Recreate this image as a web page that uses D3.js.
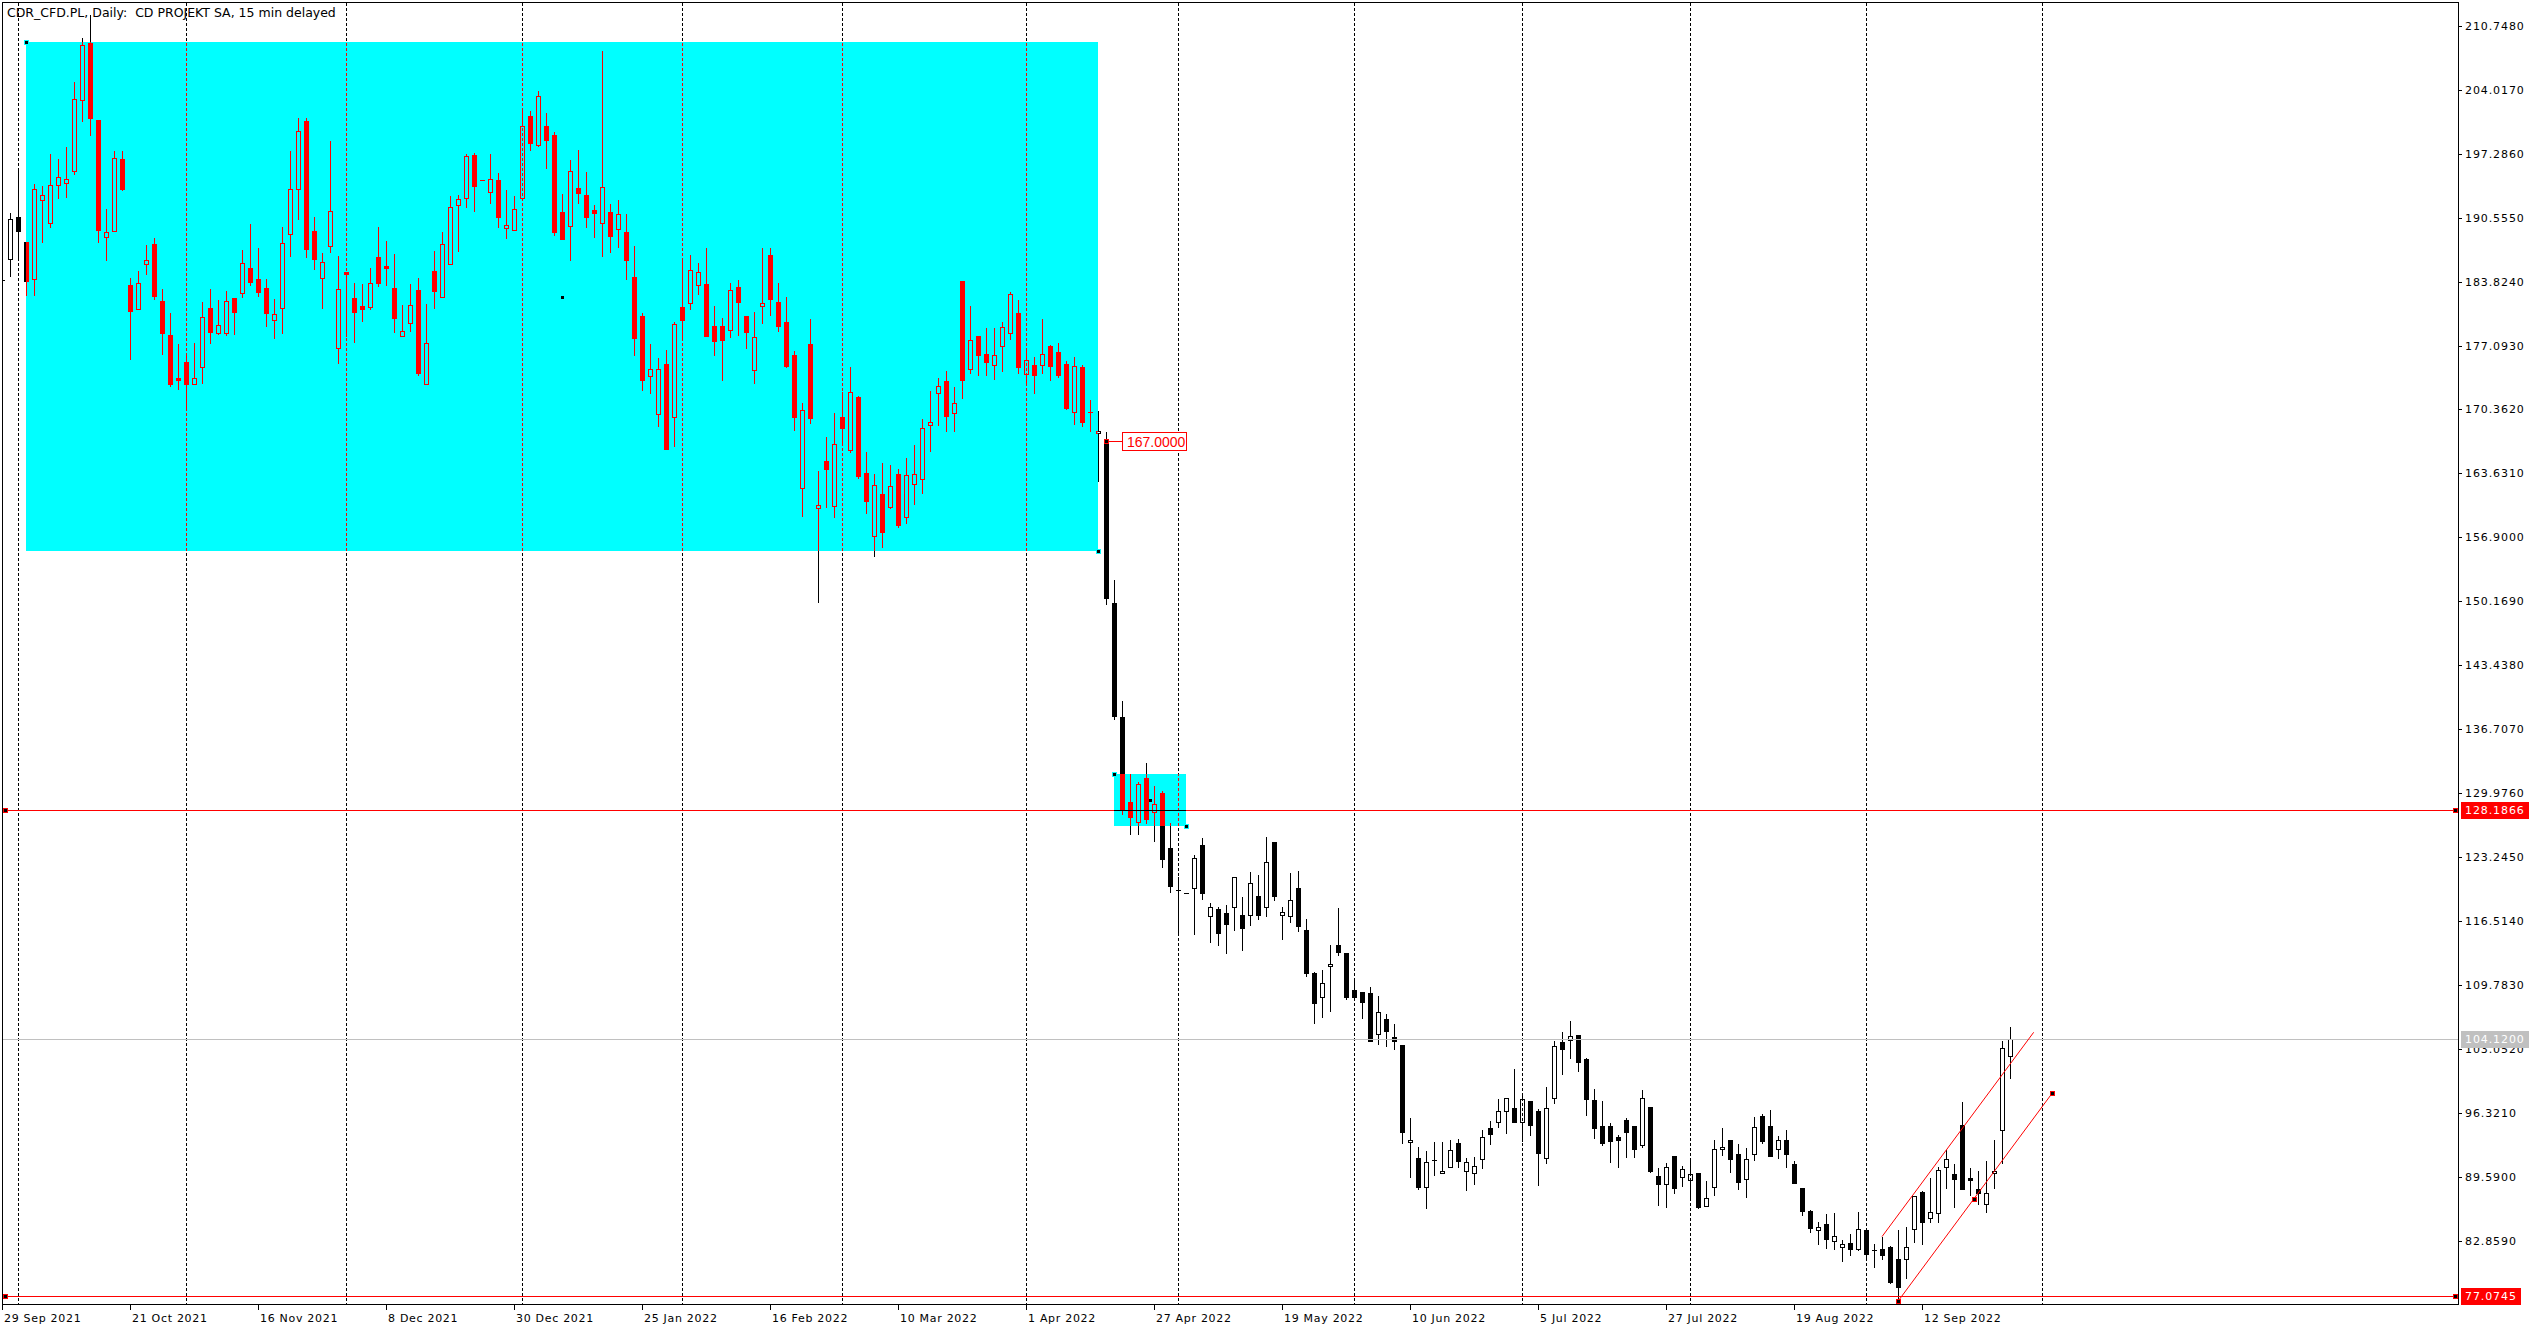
<!DOCTYPE html>
<html><head><meta charset="utf-8">
<script src="https://cdn.jsdelivr.net/npm/d3@7"></script>
<style>
html,body{margin:0;padding:0;background:#fff;overflow:hidden}
svg{display:block}
text{font-family:"DejaVu Sans",sans-serif}
</style></head><body>
<svg id="chart" width="2544" height="1332"></svg>
<script>
// ---------- DATA ----------
const chartTitle = "CDR_CFD.PL, Daily:  CD PROJEKT SA, 15 min delayed";
const openP = [
184.0,186.16,190.62,187.99,184.06,192.37,189.95,193.95,194.16,195.42,
202.90,208.89,200.83,188.48,189.11,196.69,183.43,180.97,185.64,187.78,
181.74,178.20,173.71,175.39,173.01,174.87,181.04,178.37,178.45,182.09,
182.58,185.25,184.09,183.15,179.74,181.01,188.79,193.60,200.72,189.14,
184.16,187.53,176.87,184.83,182.09,181.25,181.11,186.37,185.46,183.15,
178.09,179.43,182.94,173.07,184.93,182.20,185.70,191.89,192.61,197.12,
194.50,193.22,194.54,189.48,189.23,192.65,201.26,198.24,200.21,199.25,
191.16,189.64,193.70,192.93,191.37,189.96,191.16,189.35,189.07,184.33,
180.15,173.91,169.89,175.20,169.57,181.19,181.55,183.44,183.60,179.10,
179.10,178.70,183.20,180.15,174.56,181.27,186.66,181.68,179.57,176.06,
162.07,177.25,159.96,164.94,160.24,169.54,166.13,171.68,163.64,157.01,
161.43,160.14,163.54,159.01,162.49,163.01,168.69,172.06,173.32,169.96,
183.88,174.59,178.10,176.20,175.08,177.01,178.38,180.48,174.06,175.01,
175.01,177.01,176.38,175.15,170.13,174.83,170.06,167.85,167.01,149.96,
137.97,129.02,126.99,131.62,127.97,130.00,124.21,119.83,119.44,119.97,
124.53,117.02,117.80,117.37,118.01,117.13,117.20,119.13,118.04,124.85,
117.20,117.02,119.97,115.55,111.06,108.50,111.76,114.01,113.17,109.27,
109.06,108.92,104.61,106.22,104.33,103.48,93.24,91.56,88.51,91.42,
89.98,90.61,93.14,90.19,89.98,91.45,94.71,95.35,96.50,96.89,
95.38,97.56,96.50,91.56,97.87,103.80,103.98,104.50,101.98,97.66,
94.93,94.93,93.77,95.56,94.93,92.93,96.96,89.66,88.89,91.77,
89.59,89.28,89.98,86.54,88.51,92.51,93.45,91.98,89.35,91.98,
96.01,94.93,92.51,93.45,90.93,88.40,86.02,84.02,84.61,82.86,
82.23,82.61,81.98,83.98,81.95,81.98,82.26,80.93,80.93,84.09,
88.05,85.25,85.84,90.61,89.88,95.03,89.45,88.37,86.72,90.05,
94.51,102.29];
const highP = [
184.6,191.04,195.56,187.99,194.09,193.88,197.25,196.72,197.98,204.83,
209.42,211.87,200.83,191.42,197.53,197.53,184.23,184.93,187.67,188.37,
183.01,180.48,177.29,176.10,177.39,181.67,183.04,181.88,182.83,182.09,
187.14,189.88,187.36,184.09,181.99,189.57,197.56,201.04,201.04,190.62,
186.83,198.62,186.51,184.83,183.67,183.57,185.25,189.57,188.13,186.72,
181.36,183.57,184.23,181.51,187.06,189.07,192.81,192.93,197.20,197.36,
194.50,197.28,195.27,193.50,192.85,201.90,201.82,203.91,201.58,199.57,
193.05,196.63,197.68,195.39,191.89,208.09,192.01,192.45,190.96,187.59,
180.47,177.21,175.76,176.57,179.62,186.14,186.66,185.82,187.34,181.27,
179.98,183.72,184.01,180.15,180.63,187.34,187.34,183.69,182.16,176.48,
171.05,179.88,163.89,167.47,169.99,172.17,174.83,171.82,165.89,163.54,
164.70,164.52,164.13,165.26,166.63,169.33,172.27,173.64,174.41,172.69,
183.88,181.25,178.10,178.94,178.94,179.57,182.73,181.85,176.59,175.92,
179.88,177.11,177.36,175.47,175.92,175.00,171.36,170.20,167.99,152.42,
139.69,132.00,131.20,133.19,130.74,130.20,126.81,121.20,119.44,123.48,
125.27,118.43,118.01,118.22,121.13,119.06,121.69,121.34,125.37,124.85,
118.01,121.58,121.79,116.71,111.17,111.41,114.01,117.90,113.17,110.46,
109.06,109.59,108.64,106.78,105.69,103.48,95.80,92.71,92.33,93.28,
93.28,93.49,93.56,91.56,91.70,94.54,95.49,97.77,97.94,100.92,
98.29,97.56,96.71,99.06,103.87,104.85,106.01,104.50,102.08,98.82,
97.56,95.31,94.01,95.80,94.93,98.71,96.96,90.51,91.03,91.77,
90.72,91.35,89.98,89.17,93.45,94.72,93.45,93.07,92.61,95.87,
96.22,96.61,93.91,94.51,91.28,88.40,86.12,84.89,85.70,85.77,
82.97,83.60,85.91,83.98,82.51,83.32,82.33,84.02,84.37,87.60,
88.12,89.45,90.65,92.47,90.96,97.45,90.51,90.23,91.28,93.45,
103.91,105.38];
const lowP = [
183.4,184.44,186.44,182.41,182.41,188.02,189.60,192.65,192.76,195.18,
200.76,199.28,188.02,186.13,189.11,193.46,175.67,180.97,184.62,182.02,
176.24,172.87,172.55,170.66,173.01,173.18,177.39,178.27,178.20,178.34,
182.23,183.46,182.34,179.18,177.92,178.45,186.55,190.44,186.41,185.15,
181.08,186.97,175.29,178.13,177.50,179.67,180.94,183.39,183.46,178.55,
178.09,178.66,173.99,173.07,181.03,182.20,185.70,187.02,191.65,191.20,
194.50,192.05,189.52,188.43,189.23,192.65,197.68,198.04,195.79,188.75,
188.27,186.06,192.13,189.60,188.47,186.50,186.98,187.43,184.13,176.08,
172.39,172.10,168.65,166.19,166.51,177.65,180.91,182.48,178.10,176.08,
173.47,177.97,178.18,176.85,173.15,179.46,180.27,178.59,174.87,168.20,
159.19,168.98,150.14,160.14,159.01,166.87,165.92,163.19,159.47,154.98,
155.93,160.03,157.96,158.45,160.45,161.61,166.03,168.76,168.13,168.13,
171.61,174.24,174.03,174.03,173.61,174.45,177.81,174.24,173.08,172.13,
174.24,173.47,173.75,170.41,168.87,168.62,168.10,162.87,149.93,137.76,
127.75,125.65,125.65,126.81,124.99,122.25,119.62,115.13,119.44,115.20,
118.81,114.36,114.04,113.20,115.62,113.52,116.15,116.78,117.06,118.74,
114.67,116.43,115.52,110.78,105.83,106.47,107.10,112.95,108.32,108.22,
106.36,103.94,103.55,103.41,103.03,93.14,89.63,88.30,86.30,89.80,
89.98,90.61,90.68,88.26,88.89,90.58,93.03,94.89,94.19,95.35,
93.42,94.01,88.72,91.03,97.42,100.47,102.15,100.78,96.15,93.73,
92.93,91.21,90.68,91.73,91.66,92.72,90.16,86.68,86.47,87.95,
88.68,87.31,86.37,86.54,87.67,91.91,90.09,88.37,87.53,91.42,
93.14,91.77,91.63,90.68,88.93,85.63,83.84,82.51,82.09,81.98,
80.72,81.39,81.88,80.86,80.12,80.93,78.40,76.48,78.93,82.79,
82.54,84.89,84.89,88.47,86.47,88.30,87.67,86.72,85.95,88.47,
91.07,99.98];
const closeP = [
184.0,190.37,189.18,183.92,193.53,192.90,193.95,194.79,194.58,203.00,
208.68,201.07,189.28,189.00,196.79,193.56,180.76,183.64,186.06,182.34,
178.45,173.08,173.50,173.08,173.64,180.09,178.55,179.22,181.74,180.66,
185.74,183.81,182.76,180.55,180.37,187.85,193.53,199.67,187.29,186.23,
185.85,191.21,183.01,184.62,180.66,180.97,183.64,183.71,185.29,180.02,
178.62,181.36,174.17,177.37,182.80,187.79,191.65,192.49,197.08,193.86,
194.50,194.62,190.60,189.76,191.45,200.17,198.36,203.31,198.68,188.99,
188.27,195.43,193.09,190.60,191.04,193.78,188.59,190.92,186.06,177.85,
173.47,174.64,174.64,166.19,179.38,179.74,185.05,184.81,178.10,177.57,
177.65,182.96,181.63,178.50,178.02,181.59,181.96,179.15,174.94,169.61,
170.27,169.50,160.28,164.13,166.70,168.45,172.17,163.36,160.77,162.38,
157.51,162.28,158.24,163.43,163.54,168.38,169.01,172.83,169.71,171.01,
173.50,177.64,176.13,175.39,176.06,179.01,182.48,174.87,175.53,173.96,
176.17,174.97,174.03,170.52,174.97,169.05,170.06,168.06,150.56,138.14,
128.20,127.51,130.95,127.30,128.81,123.09,120.25,119.83,119.44,123.13,
119.51,118.01,115.30,116.25,121.13,115.83,120.50,117.20,122.71,119.20,
117.44,118.71,116.04,111.10,107.94,109.97,111.97,113.27,108.53,108.53,
108.04,103.94,106.96,104.92,103.87,94.36,93.49,88.58,91.14,91.42,
90.22,92.43,91.31,91.14,90.72,93.77,94.15,96.57,97.94,95.35,
97.77,95.03,92.15,96.89,103.41,103.10,104.47,101.73,97.84,94.72,
93.21,93.42,93.52,94.37,92.51,97.87,90.26,88.89,90.61,88.47,
90.47,89.95,86.47,87.35,92.51,92.72,91.45,89.03,91.45,94.82,
93.38,91.84,93.45,92.05,89.00,86.05,84.19,84.33,83.04,83.39,
82.51,81.98,84.09,81.46,81.95,81.39,78.51,77.98,82.19,87.60,
84.89,85.95,90.30,91.52,89.35,88.30,89.24,87.88,87.95,90.23,
103.13,104.12];

const dateLabels = ["29 Sep 2021","21 Oct 2021","16 Nov 2021","8 Dec 2021","30 Dec 2021","25 Jan 2022","16 Feb 2022","10 Mar 2022","1 Apr 2022","27 Apr 2022","19 May 2022","10 Jun 2022","5 Jul 2022","27 Jul 2022","19 Aug 2022","12 Sep 2022"];
const dateLabelBars = [0,16,32,48,64,80,96,112,128,144,160,176,192,208,224,240];
const monthSeparatorBars = [2,23,43,65,85,105,128,147,169,190,211,233,255];
const priceTickLabels = ["210.7480","204.0170","197.2860","190.5550","183.8240","177.0930","170.3620","163.6310","156.9000","150.1690","143.4380","136.7070","129.9760","123.2450","116.5140","109.7830","103.0520","96.3210","89.5900","82.8590"];

// drawn objects (in bar index / price units)
const zoneBars = [[3,137],[139,148]];
const zonePrices = [[209.03,155.47],[132.00,126.56]];
const resistanceLevel = 128.1866;
const supportLevel = 77.0745;
const bidLevel = 104.12;
const priceLabelPoint = [138, 167.0];
const priceLabelText = "167.0000";
const channelLower = [[237,76.52],[256.25,98.39]];
const channelUpper = [[235,83.32],[253.96,104.82]];
const channelAnchors = [[237,76.52],[246.5,87.32],[256.25,98.39]];

// ---------- SCALES ----------
const svg = d3.select('#chart');
const PL = 2, PR = 2458, PT = 2, PB = 1304;
const x = d3.scaleLinear().domain([0, 307]).range([PL, PR]);
const y = d3.scaleLinear().domain([82.859, 210.748]).range([1241, 25.7]);
const px = v => Math.round(x(v));
const py = v => Math.round(y(v));
const RED = '#FF0000', CYAN = '#00FFFF', GRAY = '#C0C0C0';

const bars = d3.range(openP.length).map(i => ({i, o: openP[i], h: highP[i], l: lowP[i], c: closeP[i]}));
const zones = zoneBars.map((b, k) => ({b0: b[0], b1: b[1], p0: zonePrices[k][0], p1: zonePrices[k][1]}));

const defs = svg.append('defs');
defs.append('clipPath').attr('id', 'plotClip').append('rect')
  .attr('x', PL + 1).attr('y', PT).attr('width', PR - PL - 1).attr('height', PB - PT);
const zc = defs.append('clipPath').attr('id', 'zoneClip');
zones.forEach(z => zc.append('rect').attr('x', px(z.b0)).attr('y', py(z.p0))
  .attr('width', px(z.b1) - px(z.b0)).attr('height', py(z.p1) - py(z.p0)));

// ---------- ZONES ----------
svg.append('g').selectAll('rect').data(zones).join('rect')
  .attr('x', d => px(d.b0)).attr('y', d => py(d.p0))
  .attr('width', d => px(d.b1) - px(d.b0)).attr('height', d => py(d.p1) - py(d.p0))
  .attr('fill', CYAN);

// ---------- GRID ----------
function drawGrid(g, color) {
  g.selectAll('line').data(monthSeparatorBars).join('line')
    .attr('x1', d => px(d) + 0.5).attr('x2', d => px(d) + 0.5)
    .attr('y1', PT + 1).attr('y2', PB)
    .attr('stroke', color).attr('stroke-width', 1).attr('stroke-dasharray', '3,2')
    .attr('shape-rendering', 'crispEdges');
}
drawGrid(svg.append('g'), '#000');
drawGrid(svg.append('g').attr('clip-path', 'url(#zoneClip)'), RED);

// ---------- CANDLES ----------
function drawCandles(g, color) {
  g.selectAll('g').data(bars).join('g').each(function (d) {
    const s = d3.select(this);
    const cx = px(d.i), yo = py(d.o), yc = py(d.c), yh = py(d.h), yl = py(d.l);
    const top = Math.min(yo, yc), bot = Math.max(yo, yc);
    const vline = (a, b) => s.append('line').attr('x1', cx + 0.5).attr('x2', cx + 0.5)
      .attr('y1', a).attr('y2', b).attr('stroke', color).attr('stroke-width', 1);
    if (d.c > d.o && bot > top) {
      if (yh < top) vline(yh, top);
      if (yl > bot) vline(bot + 1, yl + 1);
      s.append('rect').attr('x', cx - 1.5).attr('y', top + 0.5).attr('width', 4).attr('height', bot - top)
        .attr('fill', 'none').attr('stroke', color).attr('stroke-width', 1);
    } else if (d.c < d.o && bot > top) {
      vline(yh, yl + 1);
      s.append('rect').attr('x', cx - 2).attr('y', top).attr('width', 5).attr('height', bot - top + 1)
        .attr('fill', color);
    } else {
      if (yl > yh) vline(yh, yl + 1);
      s.append('line').attr('x1', cx - 2).attr('x2', cx + 3).attr('y1', top + 0.5).attr('y2', top + 0.5)
        .attr('stroke', color).attr('stroke-width', 1);
    }
  });
}
const cg = svg.append('g').attr('clip-path', 'url(#plotClip)').attr('shape-rendering', 'crispEdges');
drawCandles(cg.append('g'), '#000');
drawCandles(cg.append('g').attr('clip-path', 'url(#zoneClip)'), RED);

// ---------- HORIZONTAL LEVELS ----------
const hl = svg.append('g').attr('shape-rendering', 'crispEdges');
function hLine(g, v, color) {
  g.append('line').attr('x1', PL).attr('x2', PR).attr('y1', py(v) + 0.5).attr('y2', py(v) + 0.5)
    .attr('stroke', color).attr('stroke-width', 1);
}
hLine(hl, bidLevel, GRAY);
hLine(hl, resistanceLevel, RED);
hLine(hl.append('g').attr('clip-path', 'url(#zoneClip)'), resistanceLevel, '#000');
hLine(hl, supportLevel, RED);

// ---------- CHANNEL ----------
const lineGen = d3.line().x(d => x(d[0])).y(d => y(d[1]));
svg.append('path').attr('d', lineGen(channelLower)).attr('fill', 'none').attr('stroke', RED).attr('stroke-width', 1);
svg.append('path').attr('d', lineGen(channelUpper)).attr('fill', 'none').attr('stroke', RED).attr('stroke-width', 1);

// ---------- ANCHOR MARKERS ----------
function marker(cxp, cyp, border) {
  const g = svg.append('g').attr('shape-rendering', 'crispEdges');
  g.append('rect').attr('x', cxp - 2).attr('y', cyp - 2).attr('width', 5).attr('height', 5).attr('fill', border);
  g.append('rect').attr('x', cxp - 1).attr('y', cyp - 1).attr('width', 3).attr('height', 3).attr('fill', '#000');
}
zones.forEach(z => {
  marker(px(z.b0), py(z.p0), CYAN);
  marker(px(z.b1), py(z.p1), CYAN);
  const mx = Math.round((px(z.b0) + px(z.b1)) / 2), my = Math.round((py(z.p0) + py(z.p1)) / 2);
  svg.append('rect').attr('x', mx - 1).attr('y', my - 1).attr('width', 3).attr('height', 3).attr('fill', '#000');
});
channelAnchors.forEach(a => marker(Math.round(x(a[0])), Math.round(y(a[1])), RED));
marker(PL + 3, py(resistanceLevel), RED);
marker(PR - 3, py(resistanceLevel), RED);
marker(PL + 3, py(supportLevel), RED);
marker(PR - 3, py(supportLevel), RED);

// ---------- PRICE LABEL 167 ----------
{
  const ax = px(priceLabelPoint[0]), ay = py(priceLabelPoint[1]);
  const g = svg.append('g');
  g.append('line').attr('x1', ax + 2).attr('x2', ax + 16).attr('y1', ay + 0.5).attr('y2', ay + 0.5)
    .attr('stroke', RED).attr('shape-rendering', 'crispEdges');
  g.append('rect').attr('x', ax + 16.5).attr('y', ay - 8.5).attr('width', 64).attr('height', 18)
    .attr('fill', '#fff').attr('stroke', RED).attr('shape-rendering', 'crispEdges');
  g.append('text').attr('x', ax + 21).attr('y', ay + 6).attr('fill', RED)
    .style('font-family', '"Liberation Sans", Arial, sans-serif').style('font-size', '14px').text(priceLabelText);
  marker(ax, ay, RED);
}

// ---------- FRAME ----------
const fr = svg.append('g').attr('shape-rendering', 'crispEdges');
fr.append('rect').attr('x', PL + 0.5).attr('y', PT + 0.5).attr('width', PR - PL).attr('height', PB - PT)
  .attr('fill', 'none').attr('stroke', '#000');

// ---------- Y AXIS ----------
const yAxis = svg.append('g');
priceTickLabels.forEach(t => {
  const v = +t, yy = py(v);
  yAxis.append('line').attr('x1', PR).attr('x2', PR + 4).attr('y1', yy + 0.5).attr('y2', yy + 0.5)
    .attr('stroke', '#000').attr('shape-rendering', 'crispEdges');
  yAxis.append('text').attr('x', PR + 7).attr('y', yy + 4).attr('fill', '#000')
    .style('font-size', '11px').style('letter-spacing', '0.9px').text(t);
});
function axisTag(v, txt, bg, w) {
  const yy = py(v);
  svg.append('rect').attr('x', PR + 3).attr('y', yy - 8).attr('width', w).attr('height', 17).attr('fill', bg);
  svg.append('text').attr('x', PR + 7).attr('y', yy + 4).attr('fill', '#fff')
    .style('font-size', '11px').style('letter-spacing', '0.9px').text(txt);
}
axisTag(resistanceLevel, resistanceLevel.toFixed(4), RED, 68);
axisTag(bidLevel, bidLevel.toFixed(4), GRAY, 68);
axisTag(supportLevel, supportLevel.toFixed(4), RED, 60);

// ---------- X AXIS ----------
const xAxis = svg.append('g');
dateLabelBars.forEach((b, k) => {
  const xx = px(b);
  xAxis.append('line').attr('x1', xx + 0.5).attr('x2', xx + 0.5).attr('y1', PB).attr('y2', PB + 6)
    .attr('stroke', '#000').attr('shape-rendering', 'crispEdges');
  xAxis.append('text').attr('x', xx + 2).attr('y', PB + 18).attr('fill', '#000')
    .style('font-size', '11px').style('letter-spacing', '0.7px').text(dateLabels[k]);
});

// ---------- TITLE ----------
svg.append('text').attr('x', 7).attr('y', 17).attr('fill', '#000')
  .style('font-size', '12.5px').style('white-space', 'pre').attr('xml:space', 'preserve').text(chartTitle);
</script>
</body></html>
